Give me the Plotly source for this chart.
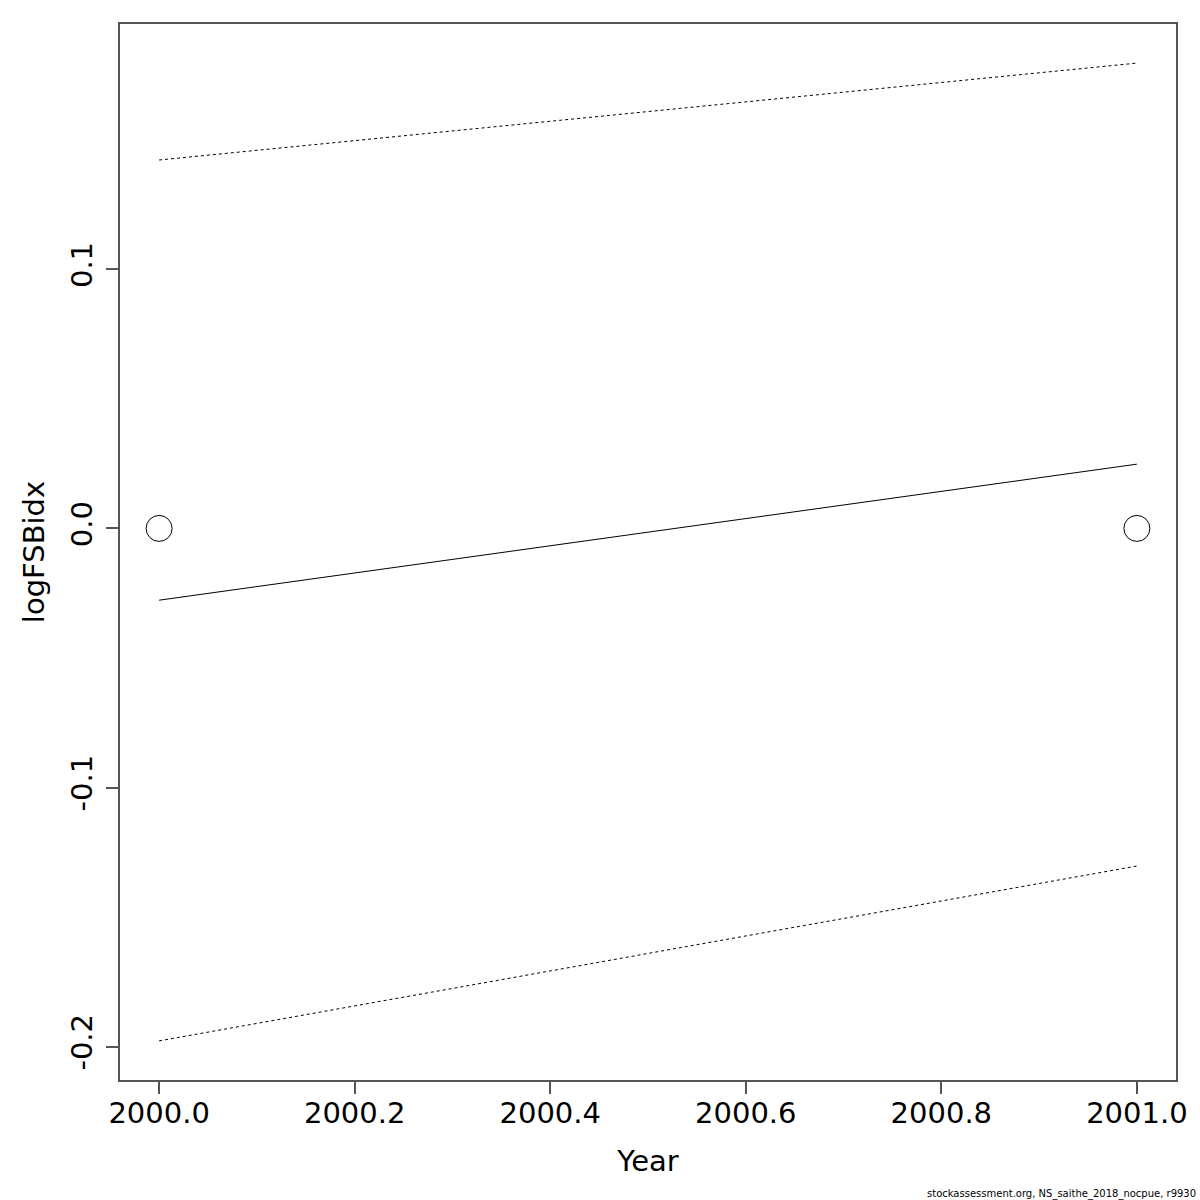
import plotly.graph_objects as go

# Data
years = [2000.0, 2001.0]
obs = [0.0, 0.0]
fit = [-0.0277, 0.0248]
upper = [0.1422, 0.1796]
lower = [-0.1978, -0.1303]

x_ticks = [2000.0, 2000.2, 2000.4, 2000.6, 2000.8, 2001.0]
x_ticklabels = ["2000.0", "2000.2", "2000.4", "2000.6", "2000.8", "2001.0"]
y_ticks = [-0.2, -0.1, 0.0, 0.1]
y_ticklabels = ["-0.2", "-0.1", "0.0", "0.1"]

footer = "stockassessment.org, NS_saithe_2018_nocpue, r9930"

font = "DejaVu Sans"

fig = go.Figure()
fig.add_trace(go.Scatter(x=years, y=upper, mode="lines",
                         line=dict(color="black", width=1, dash="dot"),
                         showlegend=False, hoverinfo="skip"))
fig.add_trace(go.Scatter(x=years, y=lower, mode="lines",
                         line=dict(color="black", width=1, dash="dot"),
                         showlegend=False, hoverinfo="skip"))
fig.add_trace(go.Scatter(x=years, y=fit, mode="lines",
                         line=dict(color="black", width=1),
                         showlegend=False))
fig.add_trace(go.Scatter(x=years, y=obs, mode="markers",
                         marker=dict(symbol="circle-open", size=26,
                                     color="black", line=dict(width=1)),
                         showlegend=False))

xr = [min(years) - 0.04 * (max(years) - min(years)),
      max(years) + 0.04 * (max(years) - min(years))]
ymin = min(lower + fit + obs)
ymax = max(upper + fit + obs)
yr = [ymin - 0.04 * (ymax - ymin), ymax + 0.04 * (ymax - ymin)]

fig.update_layout(
    width=1200, height=1200,
    margin=dict(l=120, r=24, t=24, b=120),
    plot_bgcolor="white", paper_bgcolor="white",
    font=dict(family=font, color="black", size=29),
    xaxis=dict(range=xr, tickvals=x_ticks, ticktext=x_ticklabels,
               showgrid=False, zeroline=False, showline=True, mirror=True,
               linecolor="#555", linewidth=1.5, ticks="outside", ticklen=12,
               tickcolor="#555", tickwidth=1.5, ticklabelstandoff=-6,
               tickfont=dict(family=font, size=29),
               title=dict(text="Year", font=dict(family=font, size=29), standoff=22)),
    yaxis=dict(range=yr, tickvals=y_ticks, ticktext=y_ticklabels,
               tickangle=-90, ticklabelstandoff=3,
               showgrid=False, zeroline=False, showline=True, mirror=True,
               linecolor="#555", linewidth=1.5, ticks="outside", ticklen=12,
               tickcolor="#555", tickwidth=1.5,
               tickfont=dict(family=font, size=29),
               title=dict(text="logFSBidx", font=dict(family=font, size=29), standoff=12)),
    annotations=[dict(text=footer, xref="paper", yref="paper",
                      x=1.0, y=0.0, xanchor="right", yanchor="top",
                      xshift=22, yshift=-106, showarrow=False,
                      font=dict(family=font, size=10, color="black"))],
)

fig.write_html("out.html", config={"displayModeBar": False},
               post_script="document.body.style.margin='0';")
